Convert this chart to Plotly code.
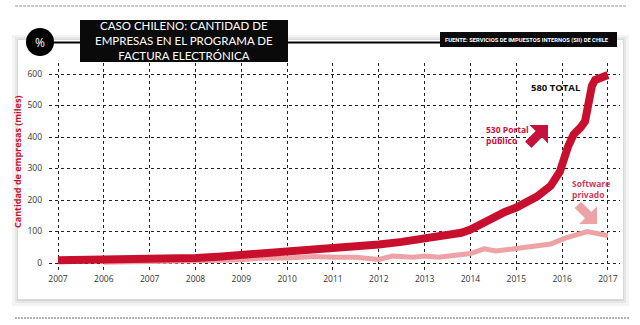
import math
import plotly.graph_objects as go

# ---- data ----
x_labels = ["2007", "2006", "2007", "2008", "2009", "2010", "2011",
            "2012", "2013", "2014", "2015", "2016", "2017"]
x_ticks = list(range(len(x_labels)))

total_x = [0, 1, 2, 2.5, 3, 3.5, 4, 4.5, 5, 5.5, 6, 6.5, 7, 7.5, 8, 8.4, 8.8,
           9.0, 9.25, 9.5, 9.75, 10, 10.45, 10.75, 10.95, 11.13, 11.25, 11.4,
           11.5, 11.65, 11.72, 12]
total_y = [9, 10, 11, 13, 16, 20, 25, 29, 34, 39, 45, 51, 59, 67, 76, 86, 96,
           106, 125, 150, 162, 176, 211, 245, 290, 370, 408, 430,
           450, 562, 581, 597]

priv_x = [1, 2, 2.3, 3, 4, 4.4, 5, 5.6, 6, 6.5, 7, 7.3, 7.75, 8, 8.3, 8.7, 9,
          9.3, 9.55, 10, 10.35, 10.75, 11.05, 11.55, 12]
priv_y = [2, 3, 6, 7, 10, 15, 16, 21, 18, 18, 11, 22, 18, 22, 18, 25, 30,
          45, 38, 46, 52, 60, 78, 100, 87]

y_ticks = [0, 100, 200, 300, 400, 500, 600]

title_text = "CASO CHILENO: CANTIDAD DE<br>EMPRESAS EN EL PROGRAMA DE<br>FACTURA ELECTRÓNICA"

RED = "#c8102e"
PINK = "#eda3a5"
FONT = "Open Sans"

# plot area in pixels
L, R, T, B = 49, 620, 63, 272
W, H = 640, 325


def px(xp):
    return (xp - L) / (R - L)


def py(yp):
    return (B - yp) / (B - T)


def arrow_path(tip, dx, dy, h, w, s, length):
    n = math.hypot(dx, dy)
    dx, dy = dx / n, dy / n
    nx, ny = -dy, dx
    tx, ty = tip
    bx, by = tx - h * dx, ty - h * dy
    ex, ey = tx - length * dx, ty - length * dy
    pts = [(tx, ty), (bx + w * nx, by + w * ny), (bx + s * nx, by + s * ny),
           (ex + s * nx, ey + s * ny), (ex - s * nx, ey - s * ny),
           (bx - s * nx, by - s * ny), (bx - w * nx, by - w * ny)]
    return "M " + " L ".join(f"{px(a):.5f},{py(b):.5f}" for a, b in pts) + " Z"


fig = go.Figure()
fig.add_trace(go.Scatter(x=priv_x, y=priv_y, mode="lines",
                         line=dict(color=PINK, width=5), hoverinfo="skip"))
fig.add_trace(go.Scatter(x=total_x, y=total_y, mode="lines",
                         line=dict(color=RED, width=8), hoverinfo="skip"))

shapes = []
# page rules
shapes.append(dict(type="line", xref="paper", yref="paper", x0=px(15), x1=px(626),
                   y0=py(6), y1=py(6), line=dict(color="#9a9a9a", width=1.2, dash="3px,1px")))
shapes.append(dict(type="line", xref="paper", yref="paper", x0=px(15), x1=px(630),
                   y0=py(318), y1=py(318), line=dict(color="#9a9a9a", width=1.5, dash="2px,1px")))
# panel shadow + panel
for (x0, x1, y0, y1, c) in [(12, 629, 35, 306, "#f4f4f4"),
                            (15, 626, 37, 303, "#e6e6e6"),
                            (17, 624, 39, 301, "#d8d8d8"),
                            (18, 623, 40, 299, "#ffffff")]:
    shapes.append(dict(type="rect", xref="paper", yref="paper", layer="below",
                       x0=px(x0), x1=px(x1), y0=py(y1), y1=py(y0),
                       fillcolor=c, line=dict(width=0)))
# header line
shapes.append(dict(type="line", xref="paper", yref="paper", x0=px(42), x1=px(617),
                   y0=py(42.5), y1=py(42.5), line=dict(color="#000000", width=2)))
# circle
shapes.append(dict(type="circle", xref="paper", yref="paper", x0=px(26), x1=px(54),
                   y0=py(56), y1=py(28), fillcolor="#000000", line=dict(width=0)))
# title box
shapes.append(dict(type="rect", xref="paper", yref="paper", x0=px(80), x1=px(288),
                   y0=py(62), y1=py(20), fillcolor="#0a0a0a", line=dict(width=0)))
# source box
shapes.append(dict(type="rect", xref="paper", yref="paper", x0=px(440), x1=px(617),
                   y0=py(47), y1=py(32), fillcolor="#0a0a0a", line=dict(width=0)))
# arrows
shapes.append(dict(type="path", xref="paper", yref="paper",
                   path=arrow_path((548, 125), 1, -1, 13, 13, 4.5, 28),
                   fillcolor="#c8103c", line=dict(width=0)))
shapes.append(dict(type="path", xref="paper", yref="paper",
                   path=arrow_path((597, 224), 1, 1, 12.5, 12.5, 4.5, 27),
                   fillcolor=PINK, line=dict(width=0)))

ann = []
ann.append(dict(xref="paper", yref="paper", x=px(40), y=py(43), text="%",
                showarrow=False, font=dict(family=FONT, size=12, color="white"),
                xanchor="center", yanchor="middle"))
ann.append(dict(xref="paper", yref="paper", x=px(184), y=py(40.5),
                text=title_text, showarrow=False, align="center",
                font=dict(family="Lato", size=11.5, color="white"),
                xanchor="center", yanchor="middle"))
ann.append(dict(xref="paper", yref="paper", x=px(527), y=py(40),
                text="<b>FUENTE: SERVICIOS DE IMPUESTOS INTERNOS (SII) DE CHILE</b>",
                showarrow=False, font=dict(family="Roboto", size=5.8, color="white"),
                xanchor="center", yanchor="middle"))
ann.append(dict(xref="paper", yref="paper", x=px(17), y=py(162),
                text="<b>Cantidad de empresas (miles)</b>", textangle=-90,
                showarrow=False, font=dict(family=FONT, size=9, color=RED),
                xanchor="center", yanchor="middle"))
ann.append(dict(xref="paper", yref="paper", x=px(556), y=py(87),
                text="<b>580 TOTAL</b>", showarrow=False,
                font=dict(family=FONT, size=9.5, color="#111111"),
                xanchor="center", yanchor="middle"))
ann.append(dict(xref="paper", yref="paper", x=px(484), y=py(135),
                text="<b>530 Portal<br>público</b>", showarrow=False, align="left",
                font=dict(family=FONT, size=8.5, color="#c8103c"),
                xanchor="left", yanchor="middle"))
ann.append(dict(xref="paper", yref="paper", x=px(591), y=py(189),
                text="<b>Software<br>privado</b>", showarrow=False, align="left",
                font=dict(family=FONT, size=8.5, color="#d0405a"),
                xanchor="center", yanchor="middle"))

fig.update_layout(
    width=W, height=H,
    margin=dict(l=L, r=W - R, t=T, b=H - B, pad=0),
    paper_bgcolor="white", plot_bgcolor="rgba(0,0,0,0)",
    showlegend=False,
    shapes=shapes, annotations=ann,
    xaxis=dict(range=[(L - 58) / 45.83, (R - 58) / 45.83], tickvals=x_ticks,
               ticktext=x_labels, showgrid=True, gridcolor="#222222", gridwidth=1,
               griddash="3px,3px", zeroline=False, showline=False, ticks="",
               tickfont=dict(family=FONT, size=8.5, color="#333333"),
               fixedrange=True),
    yaxis=dict(range=[(263 - B) / 0.315, (263 - T) / 0.315], tickvals=y_ticks,
               showgrid=True, gridcolor="#222222", gridwidth=1, griddash="3px,3px",
               zeroline=False, showline=False, ticks="", ticklabelstandoff=6,
               tickfont=dict(family=FONT, size=8.5, color="#333333"),
               fixedrange=True),
)

fig.write_html("out.html", config={"displayModeBar": False})
